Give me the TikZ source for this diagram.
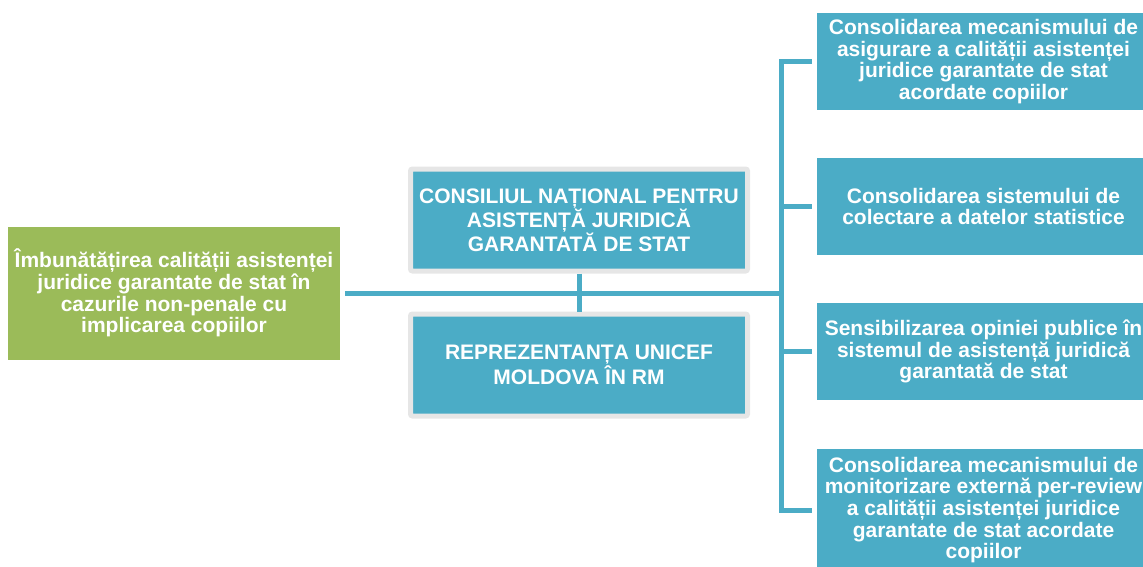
\documentclass[tikz,border=0pt]{standalone}
\usepackage{fontspec}
\setmainfont{Liberation Sans}

\definecolor{leaf}{HTML}{9BBB59}
\definecolor{sea}{HTML}{4BACC6}
\definecolor{rim}{HTML}{E6E6E6}

\begin{document}
\begin{tikzpicture}
 [ x=1pt, y=-1pt
 , every node/.style={font=\fontsize{21}{21.7}\selectfont\bfseries, text=white, align=center, inner sep=0pt}
 , goal/.style={fill=leaf, minimum width=332pt, minimum height=133pt}
 , partner/.style={fill=sea, draw=rim, line width=5pt, rounded corners=2pt, minimum width=337pt, minimum height=102pt}
 , task/.style={fill=sea, minimum width=333pt, minimum height=97pt}
 , link/.style={draw=sea, line width=5pt}
 ]
  \useasboundingbox (0,0) rectangle (1143,567);
  \clip (0,0) rectangle (1143,567);

  \node [goal] (aim) at (174,293)
    {Îmbunătățirea calității asistenței\\ juridice garantate de stat în\\ cazurile non-penale cu\\ implicarea copiilor};

  \node [partner] (cnaj) at (579,220)
    {CONSILIUL NAȚIONAL PENTRU\\ ASISTENȚĂ JURIDICĂ\\ GARANTATĂ DE STAT};
  \node [partner] (unicef) at (579,365)
    {REPREZENTANȚA UNICEF\\ MOLDOVA ÎN RM};

  \node [task] (t1) at (983.5,61.5)
    {Consolidarea mecanismului de\\ asigurare a calității asistenței\\ juridice garantate de stat\\ acordate copiilor};
  \node [task] (t2) at (983.5,206.5)
    {Consolidarea sistemului de\\ colectare a datelor statistice};
  \node [task] (t3) at (983.5,351.5)
    {Sensibilizarea opiniei publice în\\ sistemul de asistență juridică\\ garantată de stat};
  \node [task, minimum height=122pt] (t4) at (983.5,510)
    {Consolidarea mecanismului de\\ monitorizare externă per-review\\ a calității asistenței juridice\\ garantate de stat acordate\\ copiilor};

  \coordinate (hub) at (781,293);
  \draw [link, shorten <=5pt] (aim.east) -- (hub);
  \draw [link] (cnaj) -- (unicef);
  \foreach \t in {t1,t2,t3,t4}
    \draw [link, shorten <=5pt] (\t.west) -| (hub);
\end{tikzpicture}
\end{document}
